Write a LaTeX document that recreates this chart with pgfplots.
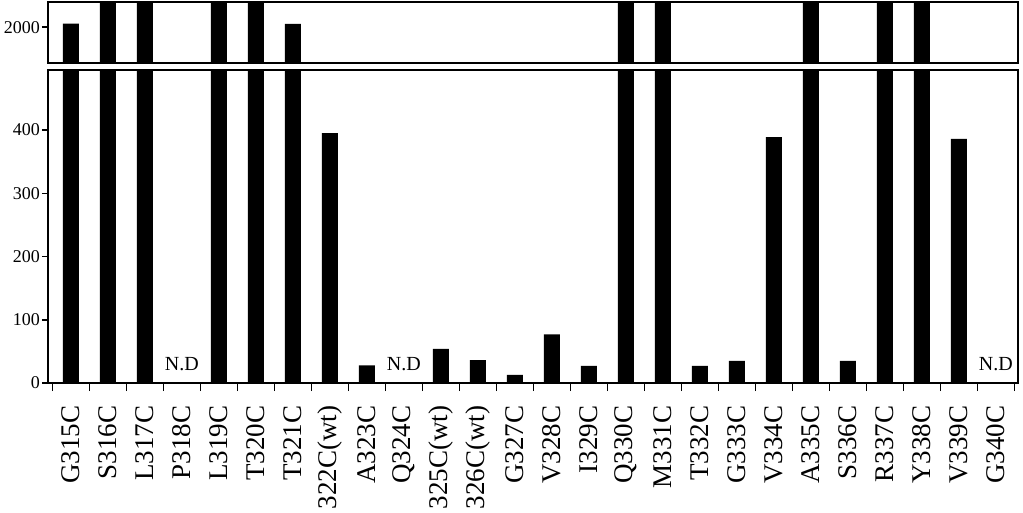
\documentclass[border=0pt]{standalone}
\usepackage{pgfplots}
\pgfplotsset{compat=1.18}
\usepackage{pgfplotstable}
\usepackage{fontspec}
\setmainfont{Liberation Serif}

% bar heights; 3000 = off the scale (clipped in both panels), N.D rows left out
\pgfplotstableread{
x   val
0   2050
1   3000
2   3000
4   3000
5   3000
6   2045
7   395
8   28
10  54
11  36
12  13
13  77
14  27
15  3000
16  3000
17  27
18  35
19  389
20  3000
21  35
22  3000
23  3000
24  386
}\bars

\pgfplotsset{
  panel/.style={
    scale only axis,
    width=970pt,
    anchor=south west,
    xmin=-0.62, xmax=25.6,
    ybar, bar width=16pt,
    axis line style={line width=2.2pt},
    tick style={line width=1.6pt, black},
    tick align=outside,
    ytick pos=left,
    /pgf/number format/assume math mode=true,
    /pgf/number format/1000 sep={},
    yticklabel style={font=\fontsize{18}{18}\selectfont, inner sep=2pt},
    major tick length=6pt,
  },
}

\begin{document}
\begin{tikzpicture}
\useasboundingbox (0,0) rectangle (1023pt,512pt);

% lower panel, 0 to ~500
\begin{axis}[panel,
  at={(48pt,129pt)}, height=313pt,
  ymin=0, ymax=495,
  ytick={0,100,200,300,400},
  xtick={0,...,25},
  minor xtick={-0.5,0.5,...,25.5},
  xtick pos=bottom,
  major x tick style={draw=none},
  minor tick length=8pt,
  xticklabel shift=13pt,
  xticklabel style={rotate=90, anchor=east, font=\fontsize{27}{27}\selectfont},
  xticklabels={G315C,S316C,L317C,P318C,L319C,T320C,T321C,322C(wt),A323C,Q324C,325C(wt),326C(wt),G327C,V328C,I329C,Q330C,M331C,T332C,G333C,V334C,A335C,S336C,R337C,Y338C,V339C,G340C},
]
\addplot[fill=black, draw=none] table[x=x, y=val] {\bars};
\node[above=12pt, inner sep=0pt, font=\fontsize{20}{20}\selectfont] at (axis cs:3,0) {N.D};
\node[above=12pt, inner sep=0pt, font=\fontsize{20}{20}\selectfont] at (axis cs:9,0) {N.D};
\node[above=12pt, inner sep=0pt, font=\fontsize{20}{20}\selectfont] at (axis cs:25,0) {N.D};
\end{axis}

% upper panel, broken part of the axis
\begin{axis}[panel,
  at={(48pt,449pt)}, height=61pt,
  ymin=1500, ymax=2350,
  ytick={2000},
  xtick=\empty,
]
\addplot[fill=black, draw=none] table[x=x, y=val] {\bars};
\end{axis}
\end{tikzpicture}
\end{document}
